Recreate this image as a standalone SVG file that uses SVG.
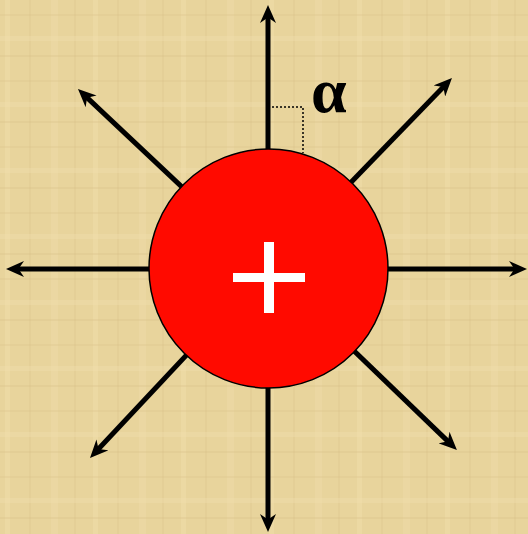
<svg xmlns="http://www.w3.org/2000/svg" width="528" height="534" viewBox="0 0 528 534">
<defs>
<pattern id="tex" width="88" height="66" patternUnits="userSpaceOnUse">
<rect width="88" height="66" fill="#E8D49C"/>
<rect x="5" y="0" width="5" height="66" fill="#F0DDAA" opacity="0.5"/>
<rect x="29" y="0" width="2" height="66" fill="#DBC58B" opacity="0.35"/>
<rect x="51" y="0" width="7" height="66" fill="#EFDCA9" opacity="0.4"/>
<rect x="74" y="0" width="2" height="66" fill="#DCC68C" opacity="0.35"/>
<rect x="0" y="14" width="88" height="2" fill="#DCC68C" opacity="0.3"/>
<rect x="0" y="36" width="88" height="5" fill="#F1DFAD" opacity="0.4"/>
<rect x="0" y="55" width="88" height="2" fill="#D9C287" opacity="0.3"/>
</pattern>
<marker id="ah" viewBox="0 0 18 16" refX="7" refY="8" markerWidth="18" markerHeight="16" orient="auto" markerUnits="userSpaceOnUse">
<path d="M0,0 L18,8 L0,16 L5.5,8 z" fill="#000"/>
</marker>
<style>
.ar{stroke:#000;stroke-width:5;fill:none;marker-end:url(#ah)}
</style>
</defs>
<rect width="528" height="534" fill="url(#tex)"/>
<g id="connectors">
<line class="ar" x1="268" y1="268" x2="268" y2="16"/>
<line class="ar" x1="268" y1="268" x2="268" y2="521"/>
<line class="ar" x1="268" y1="269" x2="17" y2="269"/>
<line class="ar" x1="268" y1="269" x2="516" y2="269"/>
<line class="ar" x1="268" y1="268" x2="86" y2="96.6"/>
<line class="ar" x1="268" y1="268" x2="444.3" y2="85.9"/>
<line class="ar" x1="268" y1="268" x2="449" y2="442.4"/>
<line class="ar" x1="268" y1="268" x2="97.5" y2="450"/>
</g>
<g id="right-angle">
<path d="M268,107 H303 V153" fill="none" stroke="#000" stroke-width="1.5" stroke-dasharray="2,2"/>
</g>
<g id="charge">
<circle cx="268.5" cy="268.5" r="119.5" fill="#FF0A00" stroke="#000" stroke-width="1.5"/>
<rect x="264" y="242" width="10" height="71" fill="#fff"/>
<rect x="233" y="273" width="72" height="9" fill="#fff"/>
</g>
<g id="alpha">
<text x="311" y="112" font-family="Liberation Serif, serif" font-weight="bold" font-size="64" fill="#000">α</text>
</g>
</svg>
